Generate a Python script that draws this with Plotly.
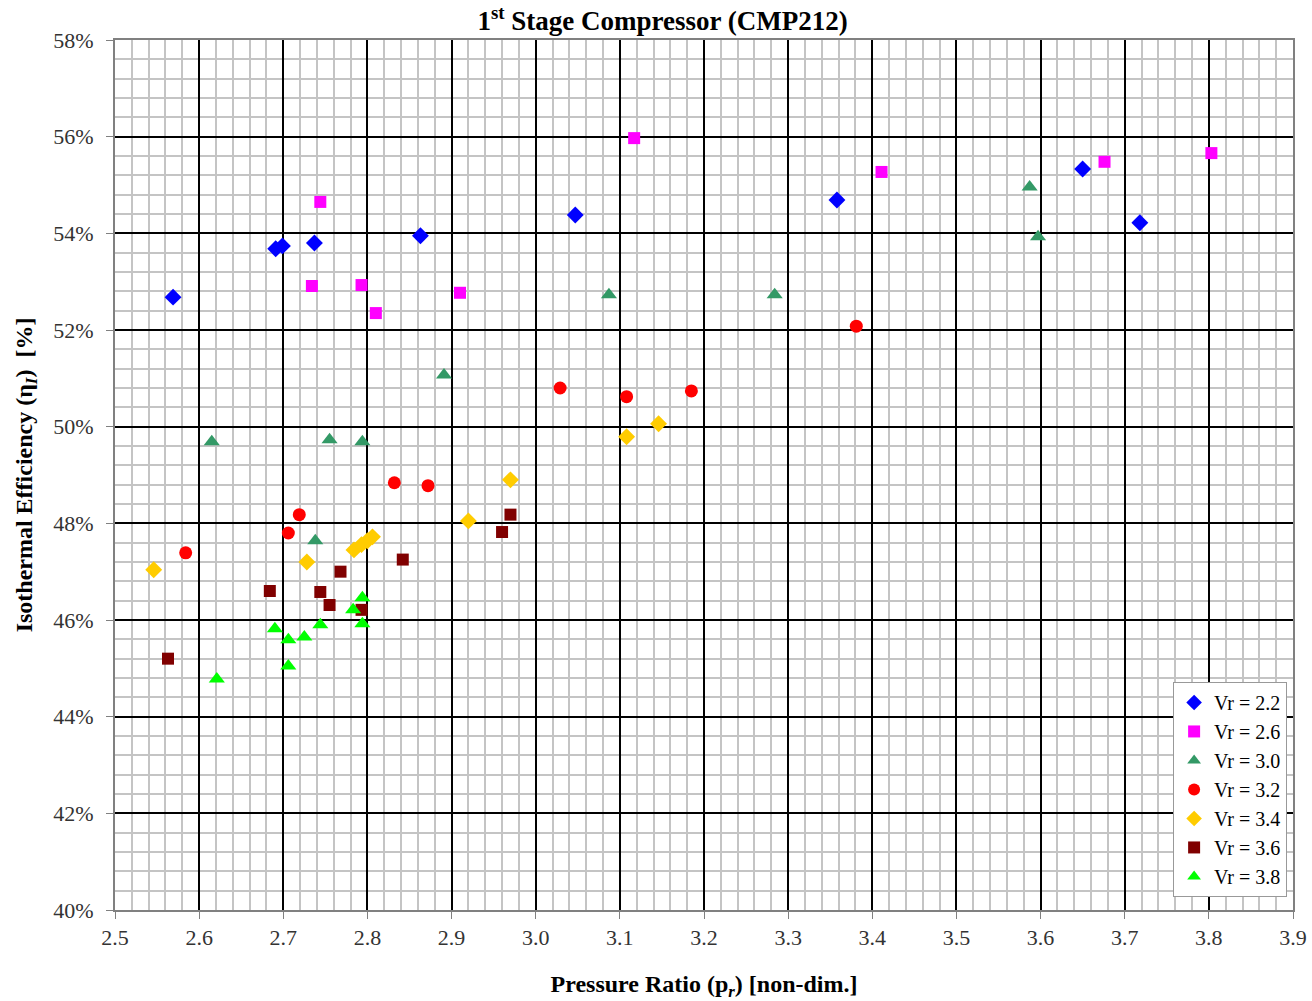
import plotly.graph_objects as go

# Data: pressure ratio (x) and isothermal efficiency in % (y) per Vr series
vr22_x = [2.569, 2.691, 2.699, 2.737, 2.863, 3.047, 3.358, 3.650, 3.718]
vr22_y = [52.68, 53.68, 53.74, 53.80, 53.95, 54.38, 54.69, 55.33, 54.22]

vr26_x = [2.744, 2.734, 2.793, 2.810, 2.910, 3.117, 3.411, 3.676, 3.803]
vr26_y = [54.65, 52.91, 52.93, 52.35, 52.77, 55.97, 55.27, 55.48, 55.66]

vr30_x = [2.615, 2.738, 2.755, 2.794, 2.891, 3.087, 3.284, 3.587, 3.597]
vr30_y = [49.69, 47.64, 49.73, 49.69, 51.07, 52.73, 52.73, 54.96, 53.93]

vr32_x = [2.584, 2.706, 2.719, 2.832, 2.872, 3.029, 3.108, 3.185, 3.381]
vr32_y = [47.39, 47.80, 48.18, 48.84, 48.78, 50.80, 50.62, 50.74, 52.08]

vr34_x = [2.546, 2.728, 2.784, 2.793, 2.800, 2.806, 2.920, 2.970, 3.108, 3.146]
vr34_y = [47.04, 47.20, 47.45, 47.56, 47.64, 47.72, 48.05, 48.90, 49.79, 50.06]

vr36_x = [2.563, 2.684, 2.744, 2.755, 2.768, 2.793, 2.842, 2.960, 2.970]
vr36_y = [45.20, 46.60, 46.58, 46.31, 47.00, 46.21, 47.25, 47.82, 48.18]

vr38_x = [2.621, 2.690, 2.706, 2.706, 2.725, 2.744, 2.783, 2.794, 2.794]
vr38_y = [44.78, 45.82, 45.59, 45.05, 45.65, 45.90, 46.21, 46.46, 45.92]

x_ticks = [2.5, 2.6, 2.7, 2.8, 2.9, 3.0, 3.1, 3.2, 3.3, 3.4, 3.5, 3.6, 3.7, 3.8, 3.9]
x_tick_labels = ["2.5", "2.6", "2.7", "2.8", "2.9", "3.0", "3.1", "3.2",
                 "3.3", "3.4", "3.5", "3.6", "3.7", "3.8", "3.9"]

series = [
    ("Vr = 2.2", vr22_x, vr22_y, "diamond", "#0000FF", 13),
    ("Vr = 2.6", vr26_x, vr26_y, "square", "#FF00FF", 12),
    ("Vr = 3.0", vr30_x, vr30_y, "triangle-up", "#339966", 14),
    ("Vr = 3.2", vr32_x, vr32_y, "circle", "#FF0000", 13),
    ("Vr = 3.4", vr34_x, vr34_y, "diamond", "#FFCC00", 13),
    ("Vr = 3.6", vr36_x, vr36_y, "square", "#800000", 12),
    ("Vr = 3.8", vr38_x, vr38_y, "triangle-up", "#00FF00", 14),
]

FONT = "Liberation Serif, Times New Roman, serif"

fig = go.Figure()
for name, xs, ys, sym, col, sz in series:
    fig.add_trace(go.Scatter(
        x=xs, y=ys, mode="markers", name=name,
        marker=dict(symbol=sym, color=col, size=sz, line=dict(width=0)),
    ))

fig.update_layout(
    width=1312, height=1001,
    margin=dict(l=115, r=19, t=40, b=91),
    paper_bgcolor="white", plot_bgcolor="white",
    font=dict(family=FONT, size=22, color="black"),
    title=dict(
        text="<b>1<sup>st</sup> Stage Compressor (CMP212)</b>",
        x=0.505, xanchor="center",
        y=0.979, yanchor="middle",
        font=dict(family=FONT, size=27, color="black"),
    ),
    legend=dict(
        x=0.995, y=0.015, xanchor="right", yanchor="bottom",
        bgcolor="white", bordercolor="#999999", borderwidth=1,
        font=dict(family=FONT, size=20, color="black"),
        itemsizing="constant", tracegroupgap=0,
    ),
    showlegend=True,
)

fig.update_xaxes(
    range=[2.5, 3.9], tickmode="array", tickvals=x_ticks, ticktext=x_tick_labels,
    automargin=False, ticklabeloverflow="allow",
    showgrid=True, gridcolor="black", gridwidth=2,
    minor=dict(dtick=0.02, tick0=2.5, showgrid=True, gridcolor="#c4c4c4", gridwidth=2),
    showline=True, linecolor="#808080", linewidth=2, mirror=True,
    ticks="outside", ticklen=7, tickcolor="#808080",
    zeroline=False,
    tickfont=dict(family=FONT, size=22, color="#333333"),
    title=dict(text="<b>Pressure Ratio (p<sub><i>r</i></sub>) [non-dim.]</b>",
               font=dict(family=FONT, size=24, color="black"), standoff=34),
)
fig.update_yaxes(
    range=[40, 58], dtick=2, tick0=40, ticksuffix="%",
    automargin=False,
    showgrid=True, gridcolor="black", gridwidth=2,
    minor=dict(dtick=0.4, showgrid=True, gridcolor="#c4c4c4", gridwidth=2),
    showline=True, linecolor="#808080", linewidth=2, mirror=True,
    ticks="outside", ticklen=7, tickcolor="#808080", ticklabelstandoff=8,
    zeroline=False,
    tickfont=dict(family=FONT, size=22, color="#333333"),
    title=dict(text="<b>Isothermal Efficiency (η<sub><i>I</i></sub>)  [%]</b>",
               font=dict(family=FONT, size=24, color="black"), standoff=14),
)

fig.write_html(
    "out.html",
    config={"displayModeBar": False},
    post_script="document.body.style.margin='0';document.body.style.overflow='hidden';",
)
